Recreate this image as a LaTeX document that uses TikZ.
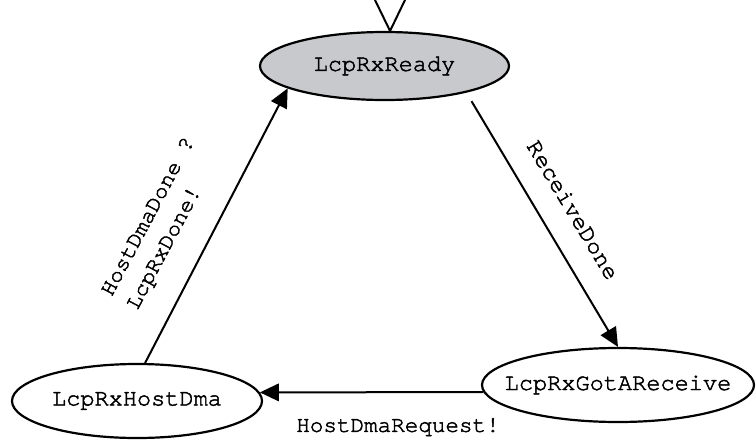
\documentclass[tikz,border=0pt]{standalone}
\usepackage{fontspec}
\setmonofont{TeX Gyre Cursor}[FakeBold=2]
\usepackage{tikz}
\usetikzlibrary{shapes.geometric,arrows.meta,positioning}
\definecolor{readygray}{RGB}{200,201,205}
\newcommand{\statefont}{\ttfamily\fontsize{11.8}{14}\selectfont}
\newcommand{\lblfont}{\ttfamily\fontsize{11.3}{14.5}\selectfont}
\tikzset{
  stnode/.style={draw,ellipse,line width=1.1pt,inner xsep=-10pt,inner ysep=0pt,font=\statefont},
  trans/.style={line width=1pt,-{Triangle[length=9.5pt,width=8.75pt]}},
  lbl/.style={font=\lblfont}
}

\begin{document}
\begin{tikzpicture}[x=0.5pt,y=-0.5pt]
  \useasboundingbox (0,0) rectangle (756,440);
  % the three states
  \node[stnode,fill=readygray,minimum width=124.5pt,minimum height=34pt] (ready) at (384.5,66) {LcpRxReady};
  \node[stnode,minimum width=125pt,minimum height=37pt] (hostdma) at (137,401) {LcpRxHostDma};
  \node[stnode,minimum width=136pt,minimum height=37pt] (gotrecv) at (618,385) {LcpRxGotAReceive};
  % initial marker
  \coordinate (initl) at (375,0);
  \coordinate (initr) at (405,0);
  \draw[line width=1pt] (initl) -- (ready.81) -- (initr);
  % transitions
  \draw[trans,shorten <=5pt] (ready.-18) -- (gotrecv.north);
  \draw[trans] (gotrecv.183) -- (hostdma.4);
  \draw[trans] (hostdma.78) -- (ready.193);
  % label the transitions
  \node[lbl,rotate=-59,font=\ttfamily\fontsize{12}{14}\selectfont] (recvlbl) at (573,210) {ReceiveDone};
  \node[lbl,rotate=62,align=left] (donelbl) at (162,224) {HostDmaDone ?\\LcpRxDone!};
  \node[lbl] (reqlbl) at (398,427) {HostDmaRequest!};
\end{tikzpicture}
\end{document}
